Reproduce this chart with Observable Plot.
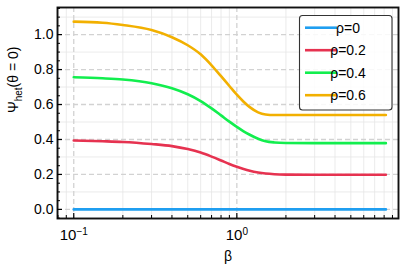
<!DOCTYPE html>
<html>
<head>
<meta charset="utf-8">
<script src="https://cdn.jsdelivr.net/npm/d3@7"></script>
<script src="https://cdn.jsdelivr.net/npm/@observablehq/plot@0.6"></script>
<style>
  html, body { margin: 0; padding: 0; background: white; }
  #chart svg { display: block; }
</style>
</head>
<body>
<div id="chart"></div>
<script>
// ---- data ----
const beta = [0.1, 0.15, 0.2, 0.3, 0.4, 0.5, 0.6, 0.7, 0.8, 0.9, 1.0, 1.1, 1.2, 1.35, 1.5, 1.7, 2, 3, 5, 8.2];
const psiRho0  = [0, 0, 0, 0, 0, 0, 0, 0, 0, 0, 0, 0, 0, 0, 0, 0, 0, 0, 0, 0];
const psiRho02 = [0.394, 0.390, 0.386, 0.374, 0.362, 0.345, 0.325, 0.302, 0.280, 0.260, 0.244, 0.231, 0.221, 0.211, 0.205, 0.201, 0.199, 0.198, 0.198, 0.198];
const psiRho04 = [0.756, 0.750, 0.743, 0.722, 0.693, 0.659, 0.620, 0.578, 0.538, 0.502, 0.472, 0.447, 0.427, 0.404, 0.390, 0.383, 0.380, 0.379, 0.379, 0.379];
const psiRho06 = [1.074, 1.068, 1.055, 1.026, 0.985, 0.939, 0.887, 0.824, 0.762, 0.706, 0.656, 0.616, 0.585, 0.555, 0.543, 0.540, 0.540, 0.540, 0.540, 0.540];
const seriesNames = ["ρ=0", "ρ=0.2", "ρ=0.4", "ρ=0.6"];
const seriesValues = [psiRho0, psiRho02, psiRho04, psiRho06];
const seriesColors = ["#1f9ef0", "#e63250", "#12ee4e", "#f2b000"];
const xMajorTicks = [0.1, 1];
const xTickLabels = ["10^−1", "10^0"];
const yMajorTicks = [0, 0.2, 0.4, 0.6, 0.8, 1.0];
const xLabel = "β";
const yLabel = "Ψhet(θ = 0)";

// ---- build table ----
const rows = [];
seriesNames.forEach((name, i) => {
  beta.forEach((b, j) => rows.push({series: name, beta: b, psi: seriesValues[i][j]}));
});

const xMinorTicks = [0.08, 0.09, 0.2, 0.3, 0.4, 0.5, 0.6, 0.7, 0.8, 0.9, 2, 3, 4, 5, 6, 7, 8, 9];
const yMinorTicks = d3.range(-0.05, 1.16, 0.05).map(v => +v.toFixed(2)).filter(v => Math.abs(v * 5 - Math.round(v * 5)) > 1e-6);
const yMinorGrid = yMinorTicks.filter(v => Math.abs(v * 10 - Math.round(v * 10)) < 1e-6);

const font = "'Liberation Sans', Arial, Helvetica, sans-serif";

const chart = Plot.plot({
  width: 408,
  height: 276,
  marginLeft: 57,
  marginRight: 10,
  marginTop: 7,
  marginBottom: 58,
  style: {fontFamily: font, fontSize: "14px", color: "#000", background: "white", overflow: "visible"},
  x: {type: "log", domain: [0.0795, 9.8]},
  y: {domain: [-0.052, 1.155]},
  color: {domain: seriesNames, range: seriesColors},
  marks: [
    Plot.gridX(xMinorTicks, {stroke: "#e6e6e6", strokeOpacity: 1, strokeWidth: 0.8}),
    Plot.gridY(yMinorGrid, {stroke: "#e6e6e6", strokeOpacity: 1, strokeWidth: 0.8}),
    Plot.gridX(xMajorTicks, {stroke: "#d2d2d2", strokeOpacity: 1, strokeWidth: 1.3, strokeDasharray: "5,3"}),
    Plot.gridY(yMajorTicks, {stroke: "#d2d2d2", strokeOpacity: 1, strokeWidth: 1.3, strokeDasharray: "5,3"}),
    Plot.line(rows, {x: "beta", y: "psi", z: "series", stroke: "series", strokeWidth: 2.6, curve: "monotone-x"}),
    Plot.frame({stroke: "#111", strokeWidth: 1.9}),
    // inward ticks
    Plot.axisX(xMajorTicks, {tickSize: -5, tickFormat: () => "", label: null, strokeWidth: 1.2}),
    Plot.axisX(xMinorTicks, {tickSize: -3, tickFormat: () => "", label: null, strokeWidth: 1}),
    Plot.axisY(yMajorTicks, {tickSize: -5, tickFormat: () => "", label: null, strokeWidth: 1.2}),
    Plot.axisY(yMinorTicks, {tickSize: -3, tickFormat: () => "", label: null, strokeWidth: 1}),
    // tick labels
    Plot.axisY(yMajorTicks, {tickSize: 0, tickPadding: 4, tickFormat: d3.format(".1f"), label: null, fontSize: 14}),
    Plot.axisX(xMajorTicks, {tickSize: 0, tickPadding: 11, tickFormat: (d) => xTickLabels[xMajorTicks.indexOf(d)], label: null, fontSize: 15}),
    // axis titles
    Plot.text([xLabel], {frameAnchor: "bottom", dy: 42, fontSize: 14}),
    Plot.text([yLabel], {frameAnchor: "left", rotate: -90, dx: -44, fontSize: 14})
  ]
});

document.getElementById("chart").appendChild(chart);
const svg = d3.select(chart);

// superscripts / subscripts in texts
svg.selectAll("text").each(function() {
  const t = d3.select(this);
  const s = t.text();
  if (s.includes("^")) {
    const [base, exp] = s.split("^");
    t.text(null);
    t.append("tspan").text(base);
    t.append("tspan").attr("font-size", 10).attr("dy", "-0.55em").text(exp);
  } else if (s === yLabel) {
    t.text(null);
    t.append("tspan").text("Ψ");
    t.append("tspan").attr("font-size", 10).attr("dy", 4).text("het");
    t.append("tspan").attr("dy", -4).text("(θ = 0)");
  }
});

// legend
const lg = svg.append("g").attr("font-family", font).attr("font-size", 14);
lg.append("rect").attr("x", 299.5).attr("y", 15.5).attr("width", 92.5).attr("height", 94.5)
  .attr("rx", 3).attr("fill", "white").attr("fill-opacity", 0.85).attr("stroke", "#333").attr("stroke-width", 1.1);
seriesNames.forEach((name, i) => {
  const cy = 27.7 + i * 22.5;
  lg.append("line").attr("x1", 305).attr("x2", 337).attr("y1", cy).attr("y2", cy)
    .attr("stroke", seriesColors[i]).attr("stroke-width", 2.6);
  lg.append("text").attr("x", 348).attr("y", cy).attr("dy", "0.35em").text(name);
});
</script>
</body>
</html>
